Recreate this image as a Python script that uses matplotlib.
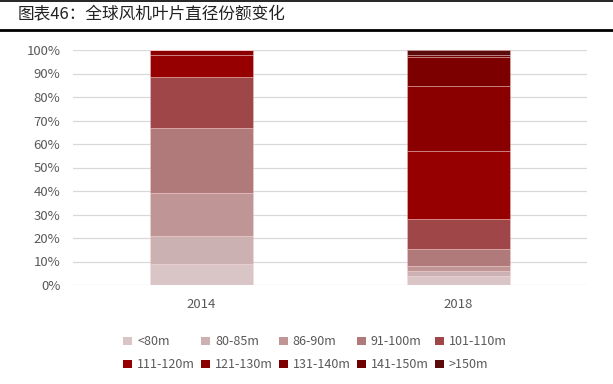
import matplotlib.pyplot as plt
from matplotlib.patches import Patch
from matplotlib.lines import Line2D
from matplotlib.ticker import PercentFormatter

plt.rcParams['font.family'] = ['Noto Sans CJK SC', 'DejaVu Sans']

years = ["2014", "2018"]
sizes = ["<80m", "80-85m", "86-90m", "91-100m", "101-110m",
         "111-120m", "121-130m", "131-140m", "141-150m", ">150m"]
colors = ["#d9c5c6", "#cbb1b1", "#c09596", "#b07a7a", "#9f4648",
          "#960000", "#8a0000", "#7d0000", "#6e0000", "#5c0a0a"]

# share in % per size class, [2014, 2018]
share = {
    "<80m":     [8.9, 4.0],
    "80-85m":   [12.0, 2.0],
    "86-90m":   [18.4, 2.0],
    "91-100m":  [27.4, 7.2],
    "101-110m": [21.9, 12.8],
    "111-120m": [9.3, 29.0],
    "121-130m": [2.1, 27.7],
    "131-140m": [0.0, 12.5],
    "141-150m": [0.0, 0.5],
    ">150m":    [0.0, 2.3],
}

fig = plt.figure(figsize=(6.13, 3.84), dpi=100)
ax = fig.add_axes([73 / 613, 1 - 285 / 384, 514 / 613, 235 / 384])

x = range(len(years))
bottom = [0.0, 0.0]
for s, c in zip(sizes, colors):
    vals = [v / 100 for v in share[s]]
    ax.bar(x, vals, 0.4, bottom=bottom, color=c, label=s,
           edgecolor=(1, 0.85, 0.85, 0.4), linewidth=0.6, zorder=3)
    bottom = [b + v for b, v in zip(bottom, vals)]

ax.set_xlim(-0.5, 1.5)
ax.set_ylim(0, 1.0)
ax.set_yticks([i / 10 for i in range(11)])
ax.yaxis.set_major_formatter(PercentFormatter(1.0, decimals=0))
ax.set_xticks(list(x))
ax.set_xticklabels(years)
ax.grid(axis="y", color="#d9d9d9", linewidth=0.9, zorder=0)
for sp in ax.spines.values():
    sp.set_visible(False)
ax.tick_params(length=0, colors="#595959", labelsize=9.5)
ax.tick_params(axis="y", pad=9)
ax.tick_params(axis="x", pad=9)

# legend, row by row
handles = [Patch(facecolor=c, edgecolor="none") for c in colors]
order = [0, 5, 1, 6, 2, 7, 3, 8, 4, 9]
leg = fig.legend([handles[i] for i in order], [sizes[i] for i in order],
                 ncol=5, loc="upper left", bbox_to_anchor=(112 / 613, 1 - 324 / 384),
                 frameon=False, fontsize=9, handlelength=0.7, handleheight=0.7,
                 handletextpad=0.4, columnspacing=0.5, labelspacing=0.8)
for t in leg.get_texts():
    t.set_color("#595959")

# title band
fig.text(18 / 613, 1 - 15 / 384, "图表46：全球风机叶片直径份额变化",
         fontsize=12, va="center", ha="left", color="#222222")
fig.add_artist(Line2D([0, 1], [1 - 1 / 384, 1 - 1 / 384], color="black", linewidth=1.2))
fig.add_artist(Line2D([0, 1], [1 - 29.5 / 384, 1 - 29.5 / 384], color="black", linewidth=2))

fig.savefig("out.png", dpi=100)
